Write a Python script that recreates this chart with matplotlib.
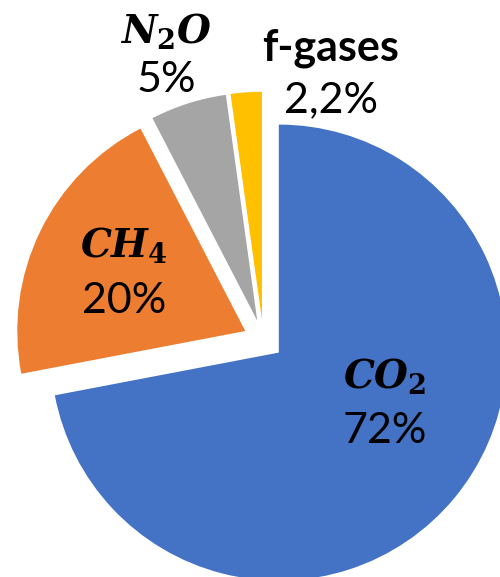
import matplotlib
matplotlib.use("Agg")
import matplotlib.pyplot as plt

# greenhouse gas shares (clockwise from 12 o'clock)
gases = ["CO2", "CH4", "N2O", "f-gases"]
shares = [72.0, 20.4, 5.4, 2.2]
names = [r"$CO_2$", r"$CH_4$", r"$N_2O$", "f-gases"]
pct_labels = ["72%", "20%", "5%", "2,2%"]
colors = ["#4472C4", "#ED7D31", "#A5A5A5", "#FFC000"]

plt.rcParams["mathtext.fontset"] = "custom"
plt.rcParams["mathtext.it"] = "DejaVu Serif:italic:bold"
plt.rcParams["mathtext.rm"] = "DejaVu Serif:bold"
plt.rcParams["mathtext.bf"] = "DejaVu Serif:bold"

W, H = 500, 577
fig = plt.figure(figsize=(W / 100, H / 100), dpi=100)
ax = fig.add_axes([0, 0, 1, 1])
ax.pie(shares, colors=colors, startangle=90, counterclock=False,
       explode=[0.088] * len(shares), radius=1.0,
       wedgeprops=dict(linewidth=0))
ax.set_xlim(-1.155, 1.038)
ax.set_ylim(-1.040, 1.490)
ax.set_aspect("equal", adjustable="box")
ax.axis("off")

# label anchors in image pixels: (x, name baseline, pct baseline)
pos = [(385, 388, 443), (124, 257, 313), (166, 43, 92), (331, 60, 112)]
for (x, yn, yp), nm, pl in zip(pos, names, pct_labels):
    if nm.startswith("$"):
        fig.text(x / W, 1 - yn / H, nm, ha="center", va="baseline", fontsize=28)
    else:
        fig.text(x / W, 1 - yn / H, nm, ha="center", va="baseline",
                 fontsize=31, fontweight="bold", family="Lato")
    fig.text(x / W, 1 - yp / H, pl, ha="center", va="baseline",
             fontsize=31, family="Lato")

fig.savefig("out.png", dpi=100)
